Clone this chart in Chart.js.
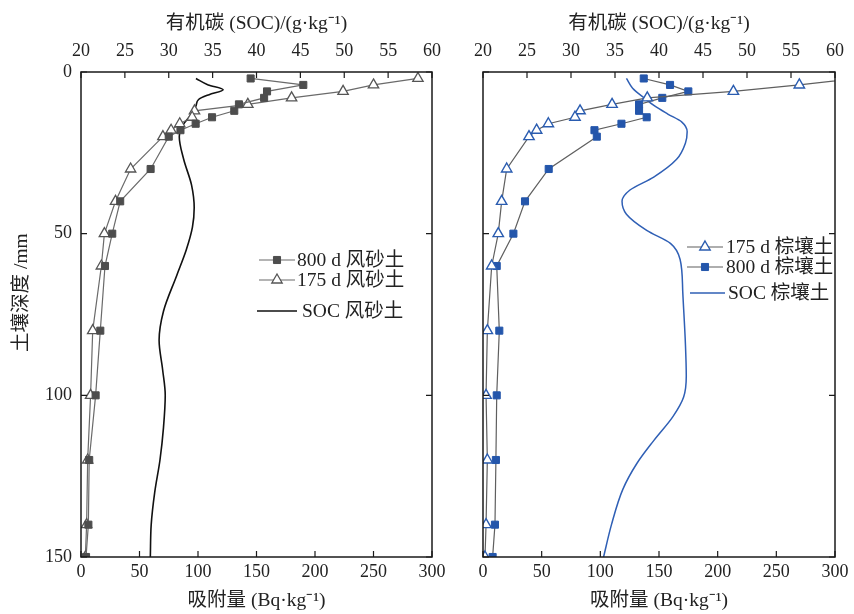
<!DOCTYPE html>
<html>
<head>
<meta charset="utf-8">
<script src="https://cdn.jsdelivr.net/npm/chart.js@4.4.1/dist/chart.umd.min.js"></script>
<style>
  html, body { margin: 0; padding: 0; background: #fff; }
  canvas { position: absolute; top: 0; }
</style>
</head>
<body>
<canvas id="sandChart" width="458" height="614" style="left:0"></canvas>
<canvas id="brownChart" width="396" height="614" style="left:458px"></canvas>
<script>
// profundidades de amostragem (mm)
const depths = [2, 4, 6, 8, 10, 12, 14, 16, 18, 20, 30, 40, 50, 60, 80, 100, 120, 140, 150];

// 风砂土 - adsorção (Bq/kg)
const ads800Sand = [145, 190, 159, 156.5, 135, 131, 112, 98, 85, 75, 59.5, 33.5, 26.7, 20.5, 16.5, 12.5, 7, 6.3, 4.3];
const ads175Sand = [288, 250, 224, 180, 142.6, 97, 95, 84.4, 77, 70, 42.4, 29.5, 20, 17.4, 10, 8.2, 5.7, 4.8, 3.7];

// 棕壤土 - adsorção (Bq/kg)
const ads175Brown = [318, 269.6, 213.4, 140, 110, 82.7, 78.4, 55.7, 45.7, 39.2, 20.2, 15.9, 13, 7.4, 3.7, 2.6, 3.7, 2.6, 1.7];
const ads800Brown = [137, 159.4, 175, 152.8, 133, 133, 139.5, 118, 95, 97, 56, 35.8, 25.9, 11.7, 13.9, 11.7, 11, 10.2, 8.2];

// perfis de SOC (g/kg)
const socSandDepth = [2, 4, 5.5, 7, 8.5, 10.5, 13, 16.5, 20, 27, 35, 42, 48, 55, 63, 74, 83, 92, 100, 110, 120, 130, 140, 150];
const socSand = [33.1, 34.5, 36.2, 34.6, 33.4, 33.1, 32.6, 31.6, 31.2, 31.7, 32.6, 32.9, 32.7, 32.0, 30.9, 29.4, 28.9, 29.3, 29.6, 29.4, 29.0, 28.4, 28.0, 27.9];
const socBrownDepth = [2, 5, 8, 10.5, 13, 15.5, 18.5, 22, 27, 32.5, 36.5, 40, 44, 49, 53, 58, 68, 84, 94, 100.5, 106.5, 114, 121, 129, 140, 150];
const socBrown = [36.3, 37.0, 38.3, 39.5, 41.0, 42.6, 43.2, 43.0, 42.0, 39.4, 36.7, 35.8, 36.3, 38.6, 41.3, 42.4, 42.7, 43.0, 43.1, 42.8, 41.6, 39.4, 37.5, 35.9, 34.6, 33.7];

const pts = (ys, xs) => ys.map((y, i) => ({ x: xs[i], y: y }));

const FONT = "'Liberation Serif', 'Noto Sans CJK SC', serif";
Chart.defaults.font.family = FONT;
Chart.defaults.font.size = 18;
Chart.defaults.color = '#222';

// moldura + ticks para dentro
const frameTicks = {
    id: 'frameTicks',
    afterDatasetsDraw(chart) {
        const { ctx, chartArea: a, scales } = chart;
        const len = 6;
        ctx.save();
        ctx.strokeStyle = '#1a1a1a';
        ctx.lineWidth = 1.5;
        ctx.strokeRect(a.left, a.top, a.right - a.left, a.bottom - a.top);
        ctx.lineWidth = 1.2;
        ctx.beginPath();
        scales.x.ticks.forEach(t => { const p = scales.x.getPixelForValue(t.value); ctx.moveTo(p, a.bottom); ctx.lineTo(p, a.bottom - len); });
        scales.x2.ticks.forEach(t => { const p = scales.x2.getPixelForValue(t.value); ctx.moveTo(p, a.top); ctx.lineTo(p, a.top + len); });
        scales.y.ticks.forEach(t => {
            const p = scales.y.getPixelForValue(t.value);
            ctx.moveTo(a.left, p); ctx.lineTo(a.left + len, p);
            ctx.moveTo(a.right, p); ctx.lineTo(a.right - len, p);
        });
        ctx.stroke();
        ctx.restore();
    }
};

function drawMarker(ctx, ds, x, y) {
    const r = ds.pointRadius;
    ctx.beginPath();
    if (ds.pointStyle === 'rect') {
        const s = r * Math.SQRT1_2;
        ctx.rect(x - s, y - s, 2 * s, 2 * s);
    } else {
        let rad = 0;
        for (let k = 0; k < 3; k++) {
            const px = x + Math.sin(rad) * r, py = y - Math.cos(rad) * r;
            k ? ctx.lineTo(px, py) : ctx.moveTo(px, py);
            rad += Math.PI * 2 / 3;
        }
        ctx.closePath();
    }
    ctx.fillStyle = ds.pointBackgroundColor;
    ctx.fill();
    ctx.lineWidth = ds.pointBorderWidth;
    ctx.strokeStyle = ds.pointBorderColor;
    ctx.stroke();
}

// legenda dentro da área do gráfico
const inLegend = {
    id: 'inLegend',
    afterDraw(chart, args, opts) {
        const ctx = chart.ctx;
        chart.data.datasets.forEach((ds, i) => {
            const row = opts.rows[i];
            ctx.save();
            ctx.strokeStyle = ds.borderColor;
            ctx.lineWidth = ds.borderWidth;
            ctx.beginPath();
            ctx.moveTo(row.x0, row.y); ctx.lineTo(row.x1, row.y);
            ctx.stroke();
            if (ds.pointRadius) drawMarker(ctx, ds, (row.x0 + row.x1) / 2, row.y);
            ctx.fillStyle = '#222';
            ctx.font = '19.5px ' + FONT;
            ctx.textBaseline = 'middle';
            ctx.fillText(ds.label, row.tx, row.y + 1);
            ctx.restore();
        });
    }
};

function buildOptions(yWidth, padRight, rows, showY) {
    const titleFont = { size: 19.5 };
    return {
        responsive: false, animation: false, indexAxis: 'y',
        layout: { padding: { left: 0, right: padRight, top: 0, bottom: 0 } },
        plugins: { legend: { display: false }, tooltip: { enabled: false }, inLegend: { rows: rows } },
        scales: {
            x: {
                type: 'linear', position: 'bottom', min: 0, max: 300,
                ticks: { stepSize: 50, padding: 4, autoSkip: false, maxRotation: 0 },
                grid: { display: false, drawTicks: false }, border: { display: false },
                title: { display: true, text: '吸附量 (Bq·kg⁻¹)', font: titleFont, padding: { top: 0, bottom: 1 } },
                afterFit: s => { s.height = 57; }
            },
            x2: {
                type: 'linear', position: 'top', min: 20, max: 60,
                ticks: { stepSize: 5, padding: 10, autoSkip: false, maxRotation: 0 },
                grid: { display: false, drawTicks: false }, border: { display: false },
                title: { display: true, text: '有机碳 (SOC)/(g·kg⁻¹)', font: titleFont, padding: { top: 12, bottom: 0 } },
                afterFit: s => { s.height = 72; }
            },
            y: {
                type: 'linear', reverse: true, min: 0, max: 150,
                ticks: { stepSize: 50, padding: 9, display: showY },
                grid: { display: false, drawTicks: false }, border: { display: false },
                title: { display: showY, text: '\u3000\u3000 土壤深度 /mm', font: titleFont, padding: { top: 10, bottom: 0 } },
                afterFit: s => { s.width = yWidth; }
            }
        }
    };
}

// --- 风砂土 ---
new Chart(document.getElementById('sandChart'), {
    type: 'line',
    data: {
        datasets: [
            { label: '800 d 风砂土', data: pts(depths, ads800Sand), xAxisID: 'x', yAxisID: 'y',
              borderColor: '#6a6a6a', borderWidth: 1.2, tension: 0,
              pointStyle: 'rect', pointRadius: 5, pointBackgroundColor: '#4d4d4d', pointBorderColor: '#4d4d4d', pointBorderWidth: 1 },
            { label: '175 d 风砂土', data: pts(depths, ads175Sand), xAxisID: 'x', yAxisID: 'y',
              borderColor: '#6a6a6a', borderWidth: 1.2, tension: 0,
              pointStyle: 'triangle', pointRadius: 6, pointBackgroundColor: '#fff', pointBorderColor: '#555', pointBorderWidth: 1.3 },
            { label: 'SOC 风砂土', data: pts(socSandDepth, socSand), xAxisID: 'x2', yAxisID: 'y',
              borderColor: '#111', borderWidth: 1.6, pointRadius: 0, cubicInterpolationMode: 'monotone' }
        ]
    },
    options: buildOptions(81, 26, [
        { x0: 259, x1: 295, tx: 297, y: 260 },
        { x0: 259, x1: 295, tx: 297, y: 280 },
        { x0: 257, x1: 297, tx: 302, y: 311 }
    ], true),
    plugins: [frameTicks, inLegend]
});

// --- 棕壤土 ---
new Chart(document.getElementById('brownChart'), {
    type: 'line',
    data: {
        datasets: [
            { label: '175 d 棕壤土', data: pts(depths, ads175Brown), xAxisID: 'x', yAxisID: 'y',
              borderColor: '#5f5f5f', borderWidth: 1.2, tension: 0,
              pointStyle: 'triangle', pointRadius: 6, pointBackgroundColor: '#fff', pointBorderColor: '#2a5cb0', pointBorderWidth: 1.4 },
            { label: '800 d 棕壤土', data: pts(depths, ads800Brown), xAxisID: 'x', yAxisID: 'y',
              borderColor: '#5f5f5f', borderWidth: 1.2, tension: 0,
              pointStyle: 'rect', pointRadius: 5, pointBackgroundColor: '#2456ab', pointBorderColor: '#2456ab', pointBorderWidth: 1 },
            { label: 'SOC 棕壤土', data: pts(socBrownDepth, socBrown), xAxisID: 'x2', yAxisID: 'y',
              borderColor: '#2f5fb5', borderWidth: 1.5, pointRadius: 0, cubicInterpolationMode: 'monotone' }
        ]
    },
    options: buildOptions(25, 19, [
        { x0: 229, x1: 265, tx: 268, y: 247 },
        { x0: 229, x1: 265, tx: 268, y: 267 },
        { x0: 232, x1: 267, tx: 270, y: 293 }
    ], false),
    plugins: [frameTicks, inLegend]
});
</script>
</body>
</html>
